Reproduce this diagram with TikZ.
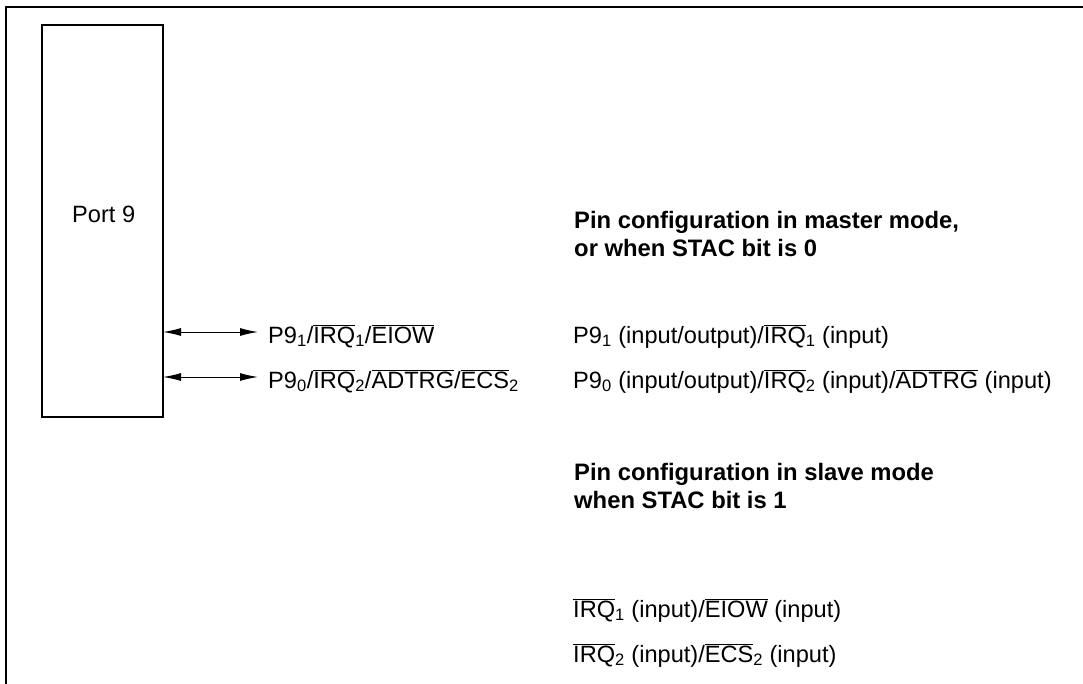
\documentclass[tikz,border=0pt]{standalone}
\usepackage{fontspec}
\setmainfont{Liberation Sans}
\usetikzlibrary{arrows.meta}
\newcommand{\ovl}[1]{$\overline{\mbox{#1}}$}
\newcommand{\sub}[1]{\textsubscript{#1}}

\begin{document}
\begin{tikzpicture}[x=1pt,y=-1pt,
  pintext/.style={anchor=base west,inner sep=0pt,font=\fontsize{23.6}{28}\selectfont},
  headtext/.style={pintext,align=left,font=\bfseries\fontsize{23.8}{28}\selectfont},
  pinarrow/.style={{Latex[length=18pt,width=8pt]}-{Latex[length=18pt,width=8pt]},line width=1pt}]
\path[use as bounding box] (0,0) rectangle (1083,684);
% frame, open at right and bottom
\draw[line width=2pt] (6,684)--(6,7)--(1083,7);
% port block
\draw[line width=1.4pt] (42,25) rectangle (163,417);
\coordinate (port) at (163,25);
\node[pintext] (portlbl) at (72,223) {Port 9};

% pins
\coordinate (a1) at (258,332);
\coordinate (a0) at (258,377);
\draw[pinarrow] (port |- a1) -- (a1);
\draw[pinarrow] (port |- a0) -- (a0);
\node[pintext] (pin1) at (268,343) {P9\sub{1}/\ovl{IRQ}\sub{1}/\ovl{EIOW}};
\node[pintext] (pin0) at (268,388) {P9\sub{0}/\ovl{IRQ}\sub{2}/\ovl{ADTRG}/\ovl{ECS}\sub{2}};

% master mode
\node[headtext] (master) at (574,257) {Pin configuration in master mode,\\or when STAC bit is 0};
\node[pintext] (m1) at (573,343) {P9\sub{1} (input/output)/\ovl{IRQ}\sub{1} (input)};
\node[pintext] (m0) at (573,388) {P9\sub{0} (input/output)/\ovl{IRQ}\sub{2} (input)/\ovl{ADTRG} (input)};

% slave mode
\node[headtext] (slave) at (574,508) {Pin configuration in slave mode\\when STAC bit is 1};
\node[pintext] (s1) at (573,617) {\ovl{IRQ}\sub{1} (input)/\ovl{EIOW} (input)};
\node[pintext] (s0) at (573,662) {\ovl{IRQ}\sub{2} (input)/\ovl{ECS}\sub{2} (input)};
\end{tikzpicture}
\end{document}
